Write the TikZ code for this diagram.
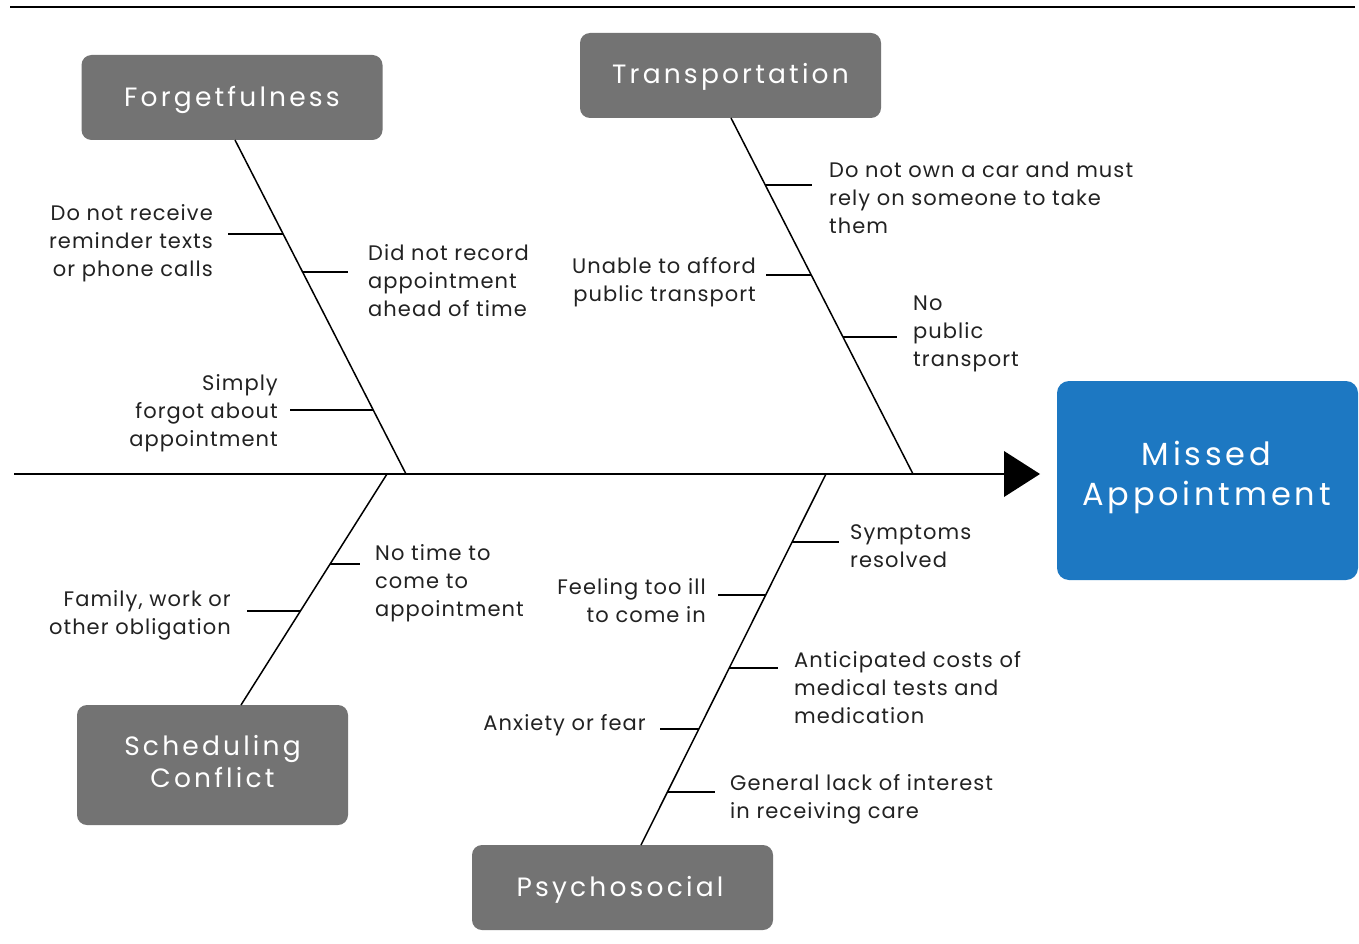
\documentclass[tikz,border=0pt]{standalone}
\usepackage{fontspec}
\setmainfont[LetterSpace=5]{Poppins}
\newfontfamily\boxfont[LetterSpace=12]{Poppins}
\usetikzlibrary{calc}
\definecolor{boxgray}{HTML}{737373}
\definecolor{effblue}{HTML}{1D78C2}
\definecolor{txt}{HTML}{222222}
\begin{document}
\begin{tikzpicture}[x=1pt,y=-1pt,
  catbox/.style={draw=none,fill=boxgray,rounded corners=10pt,inner sep=0pt},
  cattext/.style={text=white,font=\boxfont\fontsize{26.5}{32}\selectfont,align=center,inner sep=0pt},
  effbox/.style={draw=none,fill=effblue,rounded corners=12pt,inner sep=0pt},
  efftext/.style={text=white,font=\boxfont\fontsize{32}{40}\selectfont,align=center,inner sep=0pt},
  bone/.style={line width=1.5pt,black},
  rib/.style={line width=1.5pt,black},
  lbl/.style={font=\fontsize{21}{28}\selectfont,text=txt,inner sep=0pt},
  lblL/.style={lbl,anchor=west,align=left},
  lblR/.style={lbl,anchor=east,align=right}]
\useasboundingbox (0,0) rectangle (1359,944);
\fill[white] (0,0) rectangle (1359,944);
% top rule
\coordinate (tl) at (10,7);
\coordinate (tr) at (1355,7);
\draw[line width=2.2pt] (tl) -- (tr);
% boxes
\node[catbox,minimum width=301pt,minimum height=85pt] (forg) at (232,97.5) {};
\node[cattext] (forgT) at (232,100) {Forgetfulness};
\node[catbox,minimum width=301pt,minimum height=85pt] (trans) at (730.5,75.5) {};
\node[cattext] (transT) at (730.5,76.5) {Transportation};
\node[catbox,minimum width=271pt,minimum height=120pt] (sched) at (212.5,765) {};
\node[cattext] (schedT) at (212.5,762) {Scheduling\\Conflict};
\node[catbox,minimum width=301pt,minimum height=85pt] (psy) at (622.5,887.5) {};
\node[cattext] (psyT) at (620,889.5) {Psychosocial};
\node[effbox,minimum width=301pt,minimum height=199pt] (eff) at (1207.5,480.5) {};
\node[efftext] (effT) at (1206.5,477) {Missed\\Appointment};
% spine
\coordinate (sp0) at (14,474);
\coordinate (sp1) at (1006,474);
\draw[bone] (sp0) -- (sp1);
\fill (1004,451) -- (1040,474) -- (1004,497) -- cycle;
% bone ends on spine
\coordinate (fE) at (406,474);
\coordinate (tE) at (913,474);
\coordinate (sE) at (387,474);
\coordinate (pE) at (826,474);
\coordinate (fS) at (235,140);
\coordinate (tS) at (731,118);
\coordinate (sS) at (241,705);
\coordinate (pS) at (641,845);
\draw[bone] (fS) -- (fE);
\draw[bone] (tS) -- (tE);
\draw[bone] (sS) -- (sE);
\draw[bone] (pS) -- (pE);
% Forgetfulness ribs
\coordinate (f1) at (283,234); \coordinate (f1e) at (228,234);
\coordinate (f2) at (303,272); \coordinate (f2e) at (348,272);
\coordinate (f3) at (373,410); \coordinate (f3e) at (290,410);
\draw[rib] (f1) -- (f1e);
\draw[rib] (f2) -- (f2e);
\draw[rib] (f3) -- (f3e);
\node[lblR] (lf1) at (213,243) {Do not receive\\reminder texts\\or phone calls};
\node[lblL] (lf2) at (368,281) {Did not record\\appointment\\ahead of time};
\node[lblR] (lf3) at (278,413) {Simply\\forgot about\\appointment};
% Transportation ribs
\coordinate (t1) at (765,185); \coordinate (t1e) at (812,185);
\coordinate (t2) at (811,275); \coordinate (t2e) at (766,275);
\coordinate (t3) at (843,337); \coordinate (t3e) at (897,337);
\draw[rib] (t1) -- (t1e);
\draw[rib] (t2) -- (t2e);
\draw[rib] (t3) -- (t3e);
\node[lblL] (lt1) at (829,198) {Do not own a car and must\\rely on someone to take\\them};
\node[lblR] (lt2) at (756,282) {Unable to afford\\public transport};
\node[lblL] (lt3) at (913,334) {No\\public\\transport};
% Scheduling ribs
\coordinate (s1) at (330,564); \coordinate (s1e) at (360,564);
\coordinate (s2) at (300,611); \coordinate (s2e) at (247,611);
\draw[rib] (s1) -- (s1e);
\draw[rib] (s2) -- (s2e);
\node[lblL] (ls1) at (375,583) {No time to\\come to\\appointment};
\node[lblR] (ls2) at (231,615) {Family, work or\\other obligation};
% Psychosocial ribs
\coordinate (p1) at (792,542); \coordinate (p1e) at (839,542);
\coordinate (p2) at (766,595); \coordinate (p2e) at (718,595);
\coordinate (p3) at (729,668); \coordinate (p3e) at (778,668);
\coordinate (p4) at (699,729); \coordinate (p4e) at (660,729);
\coordinate (p5) at (667,792); \coordinate (p5e) at (715,792);
\draw[rib] (p1) -- (p1e);
\draw[rib] (p2) -- (p2e);
\draw[rib] (p3) -- (p3e);
\draw[rib] (p4) -- (p4e);
\draw[rib] (p5) -- (p5e);
\node[lblL] (lp1) at (850,546) {Symptoms\\resolved};
\node[lblR] (lp2) at (706,601) {Feeling too ill\\to come in};
\node[lblL] (lp3) at (794,688) {Anticipated costs of\\medical tests and\\medication};
\node[lblR] (lp4) at (646,725) {Anxiety or fear};
\node[lblL] (lp5) at (730,799) {General lack of interest\\in receiving care};
\end{tikzpicture}
\end{document}
